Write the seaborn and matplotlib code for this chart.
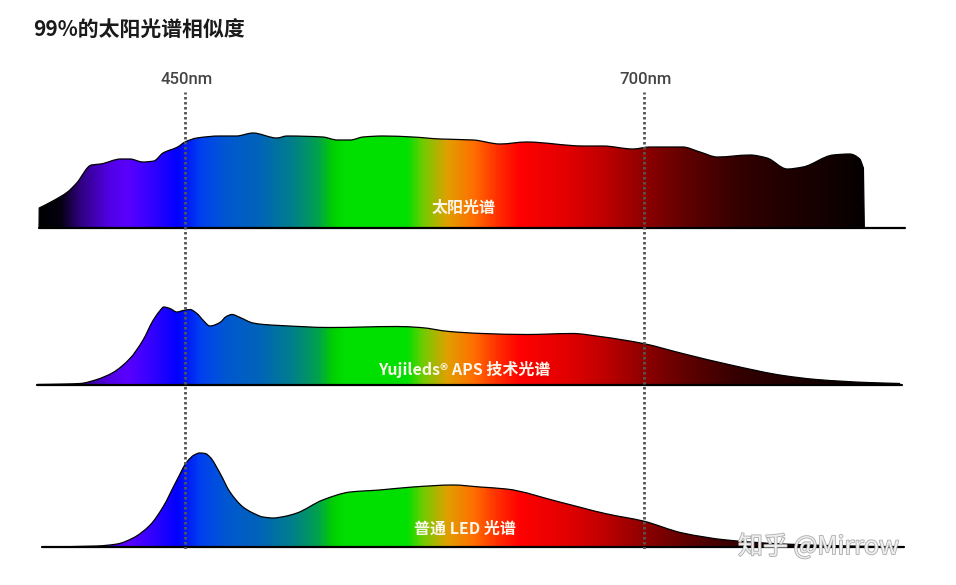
import numpy as np
import matplotlib
matplotlib.use("Agg")
import matplotlib.pyplot as plt
import matplotlib.patheffects as pe
from matplotlib.colors import LinearSegmentedColormap, Normalize
from matplotlib.path import Path
from matplotlib.patches import PathPatch
import seaborn as sns

# ---------------- data ----------------
title = "99%的太阳光谱相似度"
marker_nm = [450, 700]
marker_labels = ["450nm", "700nm"]

panel_labels = ["太阳光谱", "Yujileds® APS 技术光谱", "普通 LED 光谱"]

sun_nm = [370.5, 370.6, 378, 386, 391, 399, 404, 415, 420, 427, 433, 438, 446, 450, 456.5,
          469, 478, 487, 500, 505.6, 525, 533, 540, 547, 558, 574, 589, 607, 621.6, 636,
          667, 677.7, 694, 703, 721, 730.5, 740, 757.7, 767, 778, 786.6, 803, 812, 817.5,
          819.5, 820]
sun_h = [0, 20, 27, 36, 45, 63, 64, 69, 69, 66, 67, 75, 81, 86, 90,
         92, 92, 95, 90, 92, 91, 88, 88, 91, 92, 91, 89, 88, 84, 86,
         82, 82, 79, 81, 81, 76, 71, 73, 70, 59, 61, 73, 74, 69,
         60, 0]

aps_nm = [369.4, 385, 392.8, 402, 410.8, 420, 427, 432.6, 436, 438.5, 441.8, 445.6, 449,
          452.7, 456.5, 460, 463.6, 469, 472.5, 475.6, 480, 487, 493, 501.7, 529, 565.5,
          578, 594, 612, 636, 661, 676, 699.5, 721, 748.5, 775.7, 794, 821.5, 839.5]
aps_h = [0, 0.5, 1, 5, 12, 26, 44, 64, 73, 77.5, 76, 72.5, 74,
         75, 71, 64, 58.5, 62, 68, 70, 67, 61.5, 60, 59, 57, 58,
         57, 53, 51, 50, 51, 48, 41, 31, 19, 9, 5, 2, 1]

led_nm = [372, 402, 413, 421.7, 431, 438, 445.6, 451, 455, 458, 461, 463.6, 469, 474.5,
          481.6, 487, 492.5, 498, 504, 511, 525, 540, 556, 574, 596, 610.7, 625, 654, 680,
          699.5, 721, 745, 775.7, 812, 841]
led_h = [0, 1, 3, 9, 22, 40, 67, 85, 92, 94, 93.5, 90, 74, 55,
         40, 34, 30, 29, 30.5, 34, 47, 55, 57, 60, 62, 60, 58, 45, 33,
         26, 14, 7, 3, 1, 0]

baseline_spans = [(370.5, 842), (369.4, 840.5), (372, 841.5)]

# spectrum colour stops (nm, colour)
color_stops = [(360, "#000000"), (370.5, "#000000"), (381.9, "#050010"), (392.8, "#300080"),
               (407.5, "#5000e0"), (418.4, "#5a00ff"), (432.6, "#3000ff"), (445.6, "#0000ff"),
               (458.2, "#0040f0"), (472.9, "#0058d0"), (490.8, "#0064b8"), (508.8, "#00808a"),
               (521.9, "#00a050"), (530.6, "#00d000"), (537, "#00e000"), (571, "#00e000"),
               (579.6, "#70cc00"), (592.7, "#e0a000"), (606.9, "#ff7000"), (620, "#ff3000"),
               (632.5, "#ff0000"), (659.7, "#e00000"), (677.7, "#c00000"), (699.5, "#900000"),
               (723.4, "#600000"), (750.7, "#350000"), (777.9, "#200000"), (805, "#100000"),
               (818.8, "#050000"), (850, "#000000")]

# ---------------- style ----------------
sns.set_theme(style="white")
plt.rcParams["font.family"] = ["Noto Sans CJK SC", "DejaVu Sans"]

W, H = 956, 585
fig = plt.figure(figsize=(W / 100, H / 100), dpi=100)

# pixel calibration: 450nm at px 185, 700nm at px 644
px_per_nm = (644 - 185) / 250.0
def px_to_nm(px):
    return 450 + (px - 185) / px_per_nm

ax_left_px, ax_right_px = 30, 915
xlim = (px_to_nm(ax_left_px), px_to_nm(ax_right_px))

lo, hi = color_stops[0][0], color_stops[-1][0]
cmap = LinearSegmentedColormap.from_list(
    "spec", [((nm - lo) / (hi - lo), c) for nm, c in color_stops], N=1024)
grad = np.linspace(lo, hi, 1200)[None, :]


def pchip_slopes(x, y):
    x = np.asarray(x, float); y = np.asarray(y, float)
    dx = np.diff(x); d = np.diff(y) / dx
    m = np.zeros_like(y)
    m[0], m[-1] = d[0], d[-1]
    for i in range(1, len(y) - 1):
        if d[i - 1] * d[i] <= 0:
            m[i] = 0.0
        else:
            w1 = 2 * dx[i] + dx[i - 1]
            w2 = dx[i] + 2 * dx[i - 1]
            m[i] = (w1 + w2) / (w1 / d[i - 1] + w2 / d[i])
    return m


def bezier_segments(x, y):
    """Cubic Bezier vertices/codes (without the initial MOVETO) through the points."""
    m = pchip_slopes(x, y)
    verts, codes = [], []
    for i in range(len(x) - 1):
        h = (x[i + 1] - x[i]) / 3.0
        verts += [(x[i] + h, y[i] + m[i] * h),
                  (x[i + 1] - h, y[i + 1] - m[i + 1] * h),
                  (x[i + 1], y[i + 1])]
        codes += [Path.CURVE4] * 3
    return verts, codes


def spectrum_paths(nm, h):
    nm = list(nm); h = list(h)
    # straight edges where the curve leaves / meets the baseline vertically
    i0 = 1 if (len(nm) > 1 and nm[1] - nm[0] < 0.5) else 0
    i1 = len(nm) - 2 if (nm[-1] - nm[-2] < 1.0 and h[-2] > 5) else len(nm) - 1
    top_x, top_y = nm[i0:i1 + 1], h[i0:i1 + 1]
    sv, sc = bezier_segments(top_x, top_y)
    # open outline
    o_verts = [(nm[0], h[0])]
    o_codes = [Path.MOVETO]
    if i0 == 1:
        o_verts.append((top_x[0], top_y[0])); o_codes.append(Path.LINETO)
    o_verts += sv; o_codes += sc
    if i1 != len(nm) - 1:
        o_verts.append((nm[-1], h[-1])); o_codes.append(Path.LINETO)
    outline = Path(o_verts, o_codes)
    # closed fill
    f_verts = [(nm[0], 0)] + o_verts[:] + [(nm[-1], 0), (nm[0], 0)]
    f_codes = [Path.MOVETO, Path.LINETO] + o_codes[1:] + [Path.LINETO, Path.CLOSEPOLY]
    return outline, Path(f_verts, f_codes)


def add_axes_px(left, top, right, bottom):
    return fig.add_axes([left / W, 1 - bottom / H, (right - left) / W, (bottom - top) / H])


baselines_px = [228, 384.5, 547]
series = [(sun_nm, sun_h), (aps_nm, aps_h), (led_nm, led_h)]

for (nm, h), base, span in zip(series, baselines_px, baseline_spans):
    ax = add_axes_px(ax_left_px, base - 100, ax_right_px, base)
    outline, fill_path = spectrum_paths(nm, h)
    clip = PathPatch(fill_path, facecolor="none", edgecolor="none", transform=ax.transData)
    ax.add_patch(clip)
    im = ax.imshow(grad, extent=[lo, hi, 0, 100], aspect="auto", cmap=cmap,
                   norm=Normalize(lo, hi), origin="lower", interpolation="bilinear")
    im.set_clip_path(clip)
    ax.add_patch(PathPatch(outline, fill=False, edgecolor="black", linewidth=0.9,
                           transform=ax.transData, zorder=3))
    sns.lineplot(x=list(span), y=[0, 0], ax=ax, color="black", linewidth=1.6,
                 estimator=None, legend=False, clip_on=False, zorder=4)
    ax.set_xlim(*xlim)
    ax.set_ylim(0, 100)
    ax.axis("off")

# labels inside the spectra
label_pos = [(464, 208), (464, 369), (465, 529)]
for (x, y), text in zip(label_pos, panel_labels):
    fig.text(x / W, 1 - y / H, text, ha="center", va="center", fontsize=11.5,
             fontweight="bold", color="#fbf6ea")

# dotted marker lines on an overlay axis
ov = add_axes_px(ax_left_px, 92, ax_right_px, 549)
for m in marker_nm:
    ov.axvline(m, color="#555555", linewidth=2.0, linestyle=(0, (0.9, 0.9)),
               dash_capstyle="butt")
ov.set_xlim(*xlim)
ov.set_ylim(0, 1)
ov.axis("off")

for m, lab in zip(marker_nm, marker_labels):
    xpx = 185 + (m - 450) * px_per_nm + 2
    fig.text(xpx / W, 1 - 80 / H, lab, ha="center", va="center", fontsize=12,
             fontweight="medium", color="#454545", family=["Roboto", "DejaVu Sans"])

fig.text(33 / W, 1 - 30 / H, title, ha="left", va="center", fontsize=15,
         fontweight="bold", color="#1a1a1a")

# watermark
fig.text(738 / W, 1 - 547 / H, "知乎 @Mirrow", ha="left", va="center", fontsize=18,
         color="#f2f2f2", alpha=0.95,
         path_effects=[pe.withStroke(linewidth=1.2, foreground="#a8a8a8")])

fig.savefig("out.png", dpi=100)
